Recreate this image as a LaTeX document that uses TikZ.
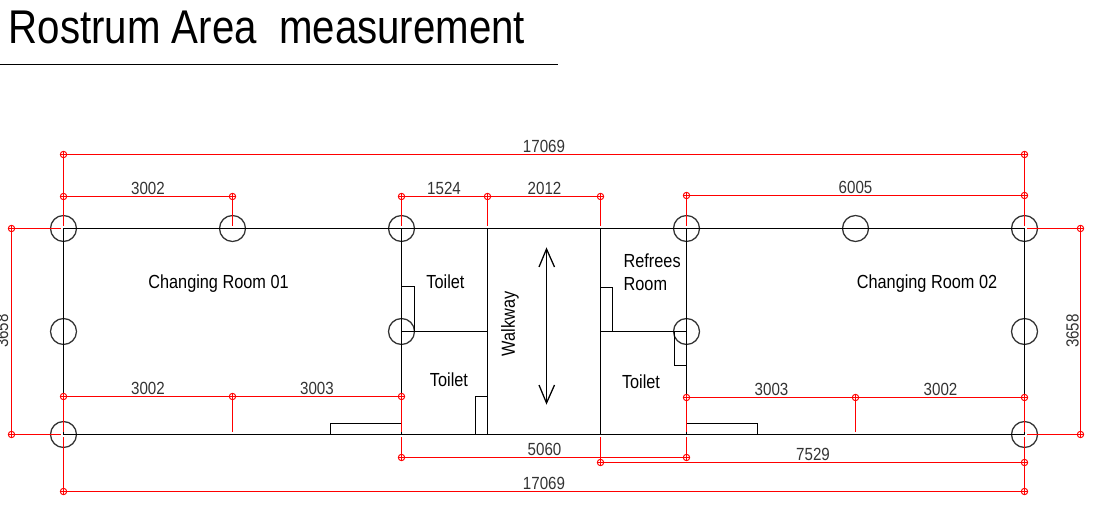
\documentclass[tikz,border=0pt]{standalone}
\usepackage{fontspec}
\setmainfont{Liberation Sans}
\newfontfamily\planfont[FakeStretch=0.86]{Liberation Sans}
\newfontfamily\titlefont[FakeStretch=0.85]{Liberation Sans}
\begin{document}
\begin{tikzpicture}[x=0.75pt,y=-0.75pt,line width=0.95pt,
  column/.style={circle,draw=black!80,minimum size=19.5pt,inner sep=0pt},
  dimpt/.style={circle,draw=dimred,line width=0.7pt,minimum size=4.8pt,inner sep=0pt,
    path picture={\draw[dimred,line width=0.6pt]
      (path picture bounding box.west) -- (path picture bounding box.east)
      (path picture bounding box.north) -- (path picture bounding box.south);}},
  dim/.style={draw=dimred,line width=0.95pt},
  room/.style={font=\planfont\fontsize{14.2}{16}\selectfont,inner sep=0pt},
  size/.style={font=\planfont\fontsize{13.2}{15}\selectfont,text=black!80,inner sep=0pt}]
  \definecolor{dimred}{RGB}{255,0,0}
  \useasboundingbox (0,0) rectangle (1110,520);

  % title
  \node[anchor=base west,inner sep=0pt,font=\titlefont\fontsize{35.5}{38}\selectfont] (title) at (8,44) {Rostrum Area\ \ measurement};
  \coordinate (ruleA) at (0,64.5);
  \coordinate (ruleB) at (557.5,64.5);
  \draw (ruleA) -- (ruleB);

  % columns
  \foreach \name/\x/\y in {at/63.5/228.5,bt/232.5/228.5,ct/401.5/228.5,dt/686.5/228.5,et/855.5/228.5,ft/1024.5/228.5,
      am/63.5/331.5,cm/401.5/331.5,dm/686.5/331.5,fm/1024.5/331.5,
      ab/63.5/434.5,fb/1024.5/434.5}
    \node[column] (\name) at (\x,\y) {};

  % walls
  \coordinate (wt) at (487.5,228.5);
  \coordinate (wm) at (487.5,331.5);
  \coordinate (wb) at (487.5,434.5);
  \coordinate (vt) at (600.5,228.5);
  \coordinate (vm) at (600.5,331.5);
  \coordinate (vb) at (600.5,434.5);
  \coordinate (cb) at (401.5,434.5);
  \coordinate (db) at (686.5,434.5);
  \draw (at.center) -- (ft.center) -- (fb.center) -- (ab.center) -- cycle;
  \draw (ct.center) -- (cb) (dt.center) -- (db) (wt) -- (wb) (vt) -- (vb);
  \draw (cm.center) -- (wm) (vm) -- (dm.center);

  % door leaves
  \draw (330.5,434.5) rectangle (401.5,423.5);
  \draw (401.5,286.5) -| (414.5,331.5);
  \draw (475.5,434.5) |- (487.5,396.5);
  \draw (600.5,287.5) -| (612.5,331.5);
  \draw (686.5,365.5) -| (674.5,331.5);
  \draw (686.5,423.5) -| (757.5,434.5);

  % walkway arrow
  \coordinate (arrA) at (546.5,249);
  \coordinate (arrB) at (546.5,403);
  \draw (arrA) -- (arrB);
  \draw (539,267) -- (arrA) -- (554.5,267);
  \draw (539,385) -- (arrB) -- (554.5,385);

  % dimension points
  \foreach \name/\x/\y in {ta/63.5/154.5,tf/1024.5/154.5,
      ua/63.5/196.5,ub/232.5/196.5,uc/401.5/196.5,uw/487.5/196.5,uv/600.5/196.5,
      ud/686.5/195.5,uf/1024.5/195.5,
      la/11.5/228.5,lb/11.5/434.5,ra/1080.5/228.5,rb/1080.5/434.5,
      ma/63.5/396.5,mb/232.5/396.5,mc/401.5/396.5,
      md/686.5/397.5,me/855.5/397.5,mf/1024.5/397.5,
      bc/401.5/457.5,bd/686.5/457.5,bv/600.5/462.5,bf/1024.5/462.5,
      za/63.5/491.5,zf/1024.5/491.5}
    \node[dimpt] (\name) at (\x,\y) {};

  % dimension lines
  \path[dim]
    (ta) edge (tf)
    (ua) edge (ub)
    (uc) edge (uv)
    (ud) edge (uf)
    (la) edge (lb)
    (ra) edge (rb)
    (ma) edge (mc)
    (md) edge (mf)
    (bc) edge (bd)
    (bv) edge (bf)
    (za) edge (zf);

  % extension lines
  \path[dim,shorten >=1.8pt]
    (ta) edge (at.center)
    (ub) edge (bt.center)
    (uc) edge (ct.center)
    (uw) edge (wt)
    (uv) edge (vt)
    (ud) edge (dt.center)
    (tf) edge (ft.center)
    (la) edge (at.center)
    (lb) edge (ab.center)
    (ra) edge (ft.center)
    (rb) edge (fb.center)
    (mb) edge (mb |- ab)
    (me) edge (me |- ab)
    (ma) edge (ab.center)
    (mf) edge (fb.center)
    (za) edge (ab.center)
    (zf) edge (fb.center)
    (bv) edge (vb)
    (bc) edge (cb)
    (bd) edge (db)
    (mc) edge (cb)
    (md) edge (db);

  % labels
  \node[room] (lroomA) at (218.5,284) {Changing Room 01};
  \node[room] (lroomB) at (927,284) {Changing Room 02};
  \node[room] (ltoiletA) at (445.5,282) {Toilet};
  \node[room] (ltoiletB) at (449,380) {Toilet};
  \node[room] (ltoiletC) at (641,382) {Toilet};
  \node[room,anchor=west] (lref) at (623,261) {Refrees};
  \node[room,anchor=west] (lrefB) at (623,284.5) {Room};
  \node[room,rotate=90] (lwalk) at (510,324) {Walkway};

  \node[size] (s1) at (148,188) {3002};
  \node[size] (s2) at (444,188.5) {1524};
  \node[size] (s3) at (544.5,188.5) {2012};
  \node[size] (s4) at (855.5,187) {6005};
  \node[size] (s5) at (544,146) {17069};
  \node[size] (s6) at (148,388) {3002};
  \node[size] (s7) at (317,388) {3003};
  \node[size] (s8) at (771.5,389) {3003};
  \node[size] (s9) at (940.5,389) {3002};
  \node[size] (s10) at (544.5,449.5) {5060};
  \node[size] (s11) at (813,454) {7529};
  \node[size] (s12) at (544,483) {17069};
  \node[size,rotate=90] (s13) at (2,331) {3658};
  \node[size,rotate=90] (s14) at (1072.5,331) {3658};
\end{tikzpicture}
\end{document}
